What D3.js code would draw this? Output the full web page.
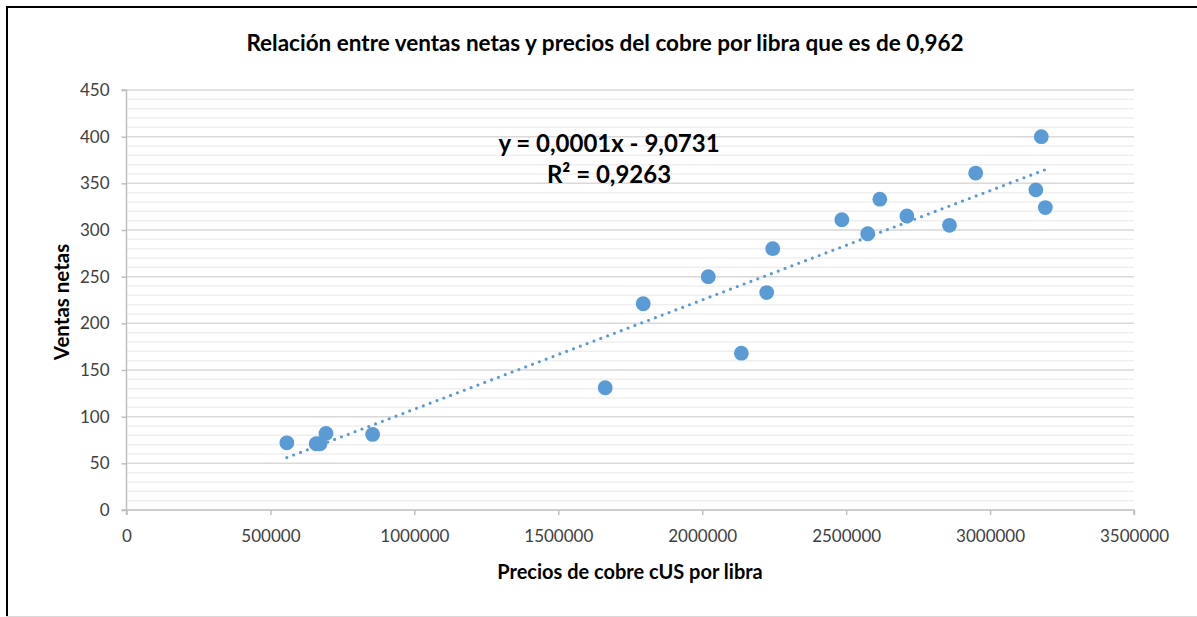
<!DOCTYPE html>
<html>
<head>
<meta charset="utf-8">
<script src="https://cdn.jsdelivr.net/npm/d3@7"></script>
<style>
    body { margin: 0; background: #fff; }
    svg text { font-family: Lato, "Open Sans", sans-serif; }
</style>
</head>
<body>
<div id="chart"></div>
<script>
'use strict';

// precios del cobre (cUS por libra) y ventas netas
var precios = [557000, 659000, 672000, 693000, 855000, 1663000, 1795000, 2021000, 2136000,
    2224000, 2245000, 2485000, 2575000, 2617000, 2711000, 2859000, 2950000, 3159000, 3178000, 3192000];
var ventas = [72, 71, 71, 82, 81, 131, 221, 250, 168, 233, 280, 311, 296, 333, 315, 305, 361, 343, 400, 324];

var xTicks = [0, 500000, 1000000, 1500000, 2000000, 2500000, 3000000, 3500000];
var yTicks = [0, 50, 100, 150, 200, 250, 300, 350, 400, 450];

var titulo = 'Relación entre ventas netas y precios del cobre por libra que es de 0,962';
var ecuacion = 'y = 0,0001x - 9,0731';
var r2Texto = 'R² = 0,9263';

var width = 1197, height = 617;
var margin = {left: 126.5, right: 63, top: 90, bottom: 107};

var svg = d3.select('#chart').append('svg')
    .attr('width', width)
    .attr('height', height);

// marco
svg.append('line').attr('x1', 6).attr('x2', width).attr('y1', 7).attr('y2', 7)
    .attr('stroke', '#000').attr('stroke-width', 2);
svg.append('line').attr('x1', 7).attr('x2', 7).attr('y1', 6).attr('y2', height)
    .attr('stroke', '#000').attr('stroke-width', 2);
svg.append('line').attr('x1', 6).attr('x2', width).attr('y1', 616.5).attr('y2', 616.5)
    .attr('stroke', '#d9d9d9').attr('stroke-width', 1);

var x = d3.scaleLinear().domain([0, 3500000]).range([margin.left, width - margin.right]);
var y = d3.scaleLinear().domain([0, 450]).range([height - margin.bottom, margin.top]);

var g = svg.append('g');

// lineas de division secundarias y principales
var minor = d3.range(0, 451, 10).filter(function (v) { return v % 50 !== 0; });
g.selectAll('line.minor').data(minor).enter().append('line')
    .attr('class', 'minor')
    .attr('x1', x(0)).attr('x2', x(3500000))
    .attr('y1', function (d) { return y(d); })
    .attr('y2', function (d) { return y(d); })
    .attr('stroke', '#efefef').attr('stroke-width', 1.5);

g.selectAll('line.major').data(yTicks.filter(function (v) { return v > 0; })).enter().append('line')
    .attr('class', 'major')
    .attr('x1', x(0)).attr('x2', x(3500000))
    .attr('y1', function (d) { return y(d); })
    .attr('y2', function (d) { return y(d); })
    .attr('stroke', '#d9d9d9').attr('stroke-width', 1.5);

// ejes
var xAxis = d3.axisBottom(x).tickValues(xTicks).tickSize(5).tickPadding(15)
    .tickFormat(d3.format('d'));
var yAxis = d3.axisLeft(y).tickValues(yTicks).tickSize(5).tickPadding(12)
    .tickFormat(d3.format('d'));

var gx = svg.append('g').attr('transform', 'translate(0,' + y(0) + ')').call(xAxis);
var gy = svg.append('g').attr('transform', 'translate(' + x(0) + ',0)').call(yAxis);

[gx, gy].forEach(function (a) {
    a.select('.domain').attr('stroke', '#bfbfbf').attr('stroke-width', 1.5);
    a.selectAll('.tick line').attr('stroke', '#bfbfbf').attr('stroke-width', 1.5);
    a.selectAll('.tick text').attr('fill', '#404040').style('font-size', '17px')
        .style('font-family', 'Lato, sans-serif');
});
gx.select('.domain').attr('d', 'M' + x(0) + ',5V0H' + x(3500000) + 'V5');
gy.select('.domain').attr('d', 'M-5,' + y(450) + 'H0V' + y(0) + 'H-5');

// linea de tendencia (minimos cuadrados)
var mx = d3.mean(precios), my = d3.mean(ventas);
var sxy = d3.sum(precios, function (p, i) { return (p - mx) * (ventas[i] - my); });
var sxx = d3.sum(precios, function (p) { return (p - mx) * (p - mx); });
var pendiente = sxy / sxx;
var intercepto = my - pendiente * mx;
var xMin = d3.min(precios), xMax = d3.max(precios);

g.append('line')
    .attr('x1', x(xMin)).attr('y1', y(pendiente * xMin + intercepto))
    .attr('x2', x(xMax)).attr('y2', y(pendiente * xMax + intercepto))
    .attr('stroke', '#5b9bd5')
    .attr('stroke-width', 3.2)
    .attr('stroke-linecap', 'round')
    .attr('stroke-dasharray', '0 7.3');

// puntos
g.selectAll('circle.punto').data(precios).enter().append('circle')
    .attr('class', 'punto')
    .attr('cx', function (d) { return x(d); })
    .attr('cy', function (d, i) { return y(ventas[i]); })
    .attr('r', 7.4)
    .attr('fill', '#5b9bd5');

// textos
svg.append('text')
    .attr('x', 605).attr('y', 51)
    .attr('text-anchor', 'middle')
    .style('font-weight', 'bold').style('font-size', '22.5px')
    .attr('fill', '#000')
    .text(titulo);

svg.append('text')
    .attr('x', 609).attr('y', 152)
    .attr('text-anchor', 'middle')
    .style('font-weight', 'bold').style('font-size', '24px')
    .attr('fill', '#000')
    .text(ecuacion);

svg.append('text')
    .attr('x', 609).attr('y', 183)
    .attr('text-anchor', 'middle')
    .style('font-weight', 'bold').style('font-size', '24px')
    .attr('fill', '#000')
    .text(r2Texto);

svg.append('text')
    .attr('x', 630).attr('y', 579)
    .attr('text-anchor', 'middle')
    .style('font-weight', 'bold').style('font-size', '20px')
    .attr('fill', '#000')
    .text('Precios de cobre cUS por libra');

svg.append('text')
    .attr('transform', 'translate(69,' + 302 + ') rotate(-90)')
    .attr('text-anchor', 'middle')
    .style('font-weight', 'bold').style('font-size', '20.5px')
    .attr('fill', '#000')
    .text('Ventas netas');
</script>
</body>
</html>
